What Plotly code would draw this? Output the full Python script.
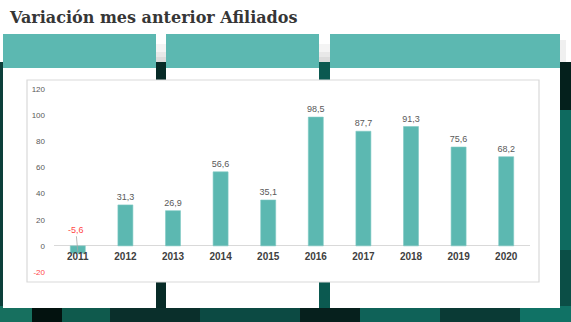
import plotly.graph_objects as go

# Yearly variation vs previous month (afiliados)
years = ["2011", "2012", "2013", "2014", "2015", "2016", "2017", "2018", "2019", "2020"]
values = [-5.6, 31.3, 26.9, 56.6, 35.1, 98.5, 87.7, 91.3, 75.6, 68.2]
y_ticks = [-20, 0, 20, 40, 60, 80, 100, 120]

W, H = 571, 322
TEAL = "#5cb8b1"
DARK = "#0c3f3a"
RED = "#ff4848"
GRAY_TXT = "#595959"


def fx(x):
    return x / W


def fy(y):
    return 1 - y / H


def rect(x0, y0, x1, y1, color, line=None, width=0, layer="below", opacity=1):
    return dict(type="rect", xref="paper", yref="paper",
                x0=fx(x0), x1=fx(x1), y0=fy(y1), y1=fy(y0),
                fillcolor=color, opacity=opacity, layer=layer,
                line=dict(color=line or color, width=width))


def fmt(v):
    return f"{v:.1f}".replace(".", ",")


shapes = []
# photographic backdrop behind the slide panels
shapes.append(rect(0, 62, W, H, DARK))
shapes.append(rect(0, 306, 32, H, "#17705f"))
shapes.append(rect(32, 306, 62, H, "#03120f"))
shapes.append(rect(62, 306, 110, H, "#0f5a4d"))
shapes.append(rect(110, 306, 200, H, "#0a2f2b"))
shapes.append(rect(200, 306, 300, H, "#0c4a43"))
shapes.append(rect(300, 306, 360, H, "#06201d"))
shapes.append(rect(360, 306, 440, H, "#0f6258"))
shapes.append(rect(440, 306, 520, H, "#0a3a35"))
shapes.append(rect(520, 306, W, H, "#107265"))
shapes.append(rect(560, 62, W, 110, "#04201c"))
shapes.append(rect(560, 110, W, 250, "#0e6a5f"))
shapes.append(rect(560, 250, W, 306, "#0b4e46"))
shapes.append(rect(156, 62, 166, 308, "#072b27"))
shapes.append(rect(319, 62, 330, 308, "#0b5950"))
# soft shadows in the gaps above the backdrop
for y0, c in [(44, "#f4f4f4"), (52, "#e8e8e8"), (57, "#dcdcdc")]:
    shapes.append(rect(156, y0, 166, 62, c))
    shapes.append(rect(319, y0, 330, 62, c))
shapes.append(rect(560, 40, 566, 62, "#f0f0f0"))

# three slide columns: teal header + white body
for x0, x1 in [(3, 156), (166, 319), (330, 560)]:
    shapes.append(rect(x0, 68, x1, 308, "white"))
    shapes.append(rect(x0, 34, x1, 68, TEAL))

# chart card
shapes.append(rect(27, 80, 539, 282, "white", line="#d9d9d9", width=1.2))

text_vals = [fmt(v) if v >= 0 else "" for v in values]

fig = go.Figure(go.Bar(
    x=years, y=values,
    marker=dict(color=TEAL, line=dict(color="#7fcac4", width=0.6)),
    text=text_vals, textposition="outside", constraintext="none",
    textfont=dict(family="Liberation Sans, Arial", size=9, color=GRAY_TXT),
    cliponaxis=False, hoverinfo="skip",
))

annotations = [
    dict(text="<b>Variación mes anterior Afiliados</b>", xref="paper", yref="paper",
         x=fx(7), y=fy(17), xanchor="left", yanchor="middle", showarrow=False,
         font=dict(family="DejaVu Serif", size=16, color="#363636")),
]
# callout for the negative bar
for i, v in enumerate(values):
    if v < 0:
        annotations.append(dict(
            x=i, y=v + 1.1, xref="x", yref="y", text=fmt(v),
            showarrow=True, arrowhead=0, arrowwidth=0.8, arrowcolor="#a6a6a6",
            ax=-2, ay=-22, standoff=0,
            font=dict(family="Liberation Sans, Arial", size=9, color=RED),
        ))

tick_text = [f"<span style='color:{RED}'>{t}</span>" if t < 0 else str(t) for t in y_ticks]

fig.update_layout(
    width=W, height=H,
    margin=dict(l=0, r=0, t=0, b=0, pad=0),
    paper_bgcolor="white", plot_bgcolor="rgba(0,0,0,0)",
    showlegend=False, bargap=0.685,
    shapes=shapes, annotations=annotations,
    xaxis=dict(type="category", categoryorder="array", categoryarray=years,
               range=[-0.5, len(years) - 0.5],
               domain=[fx(54), fx(530)], anchor="free", position=fy(246),
               showgrid=False, showline=False, ticks="", zeroline=False, automargin=False,
               tickfont=dict(family="Liberation Sans, Arial", size=10, color="#404040", weight="bold"),
               ticklabelstandoff=3, fixedrange=True),
    yaxis=dict(domain=[fy(272), fy(89)], range=[-20, 120], tickvals=y_ticks,
               ticktext=tick_text, showgrid=False, showline=False, ticks="",
               zeroline=True, zerolinecolor="#d9d9d9", zerolinewidth=1, automargin=False,
               tickfont=dict(family="Liberation Sans, Arial", size=8, color=GRAY_TXT),
               ticklabelstandoff=8, fixedrange=True),
)

fig.write_html("out.html")
